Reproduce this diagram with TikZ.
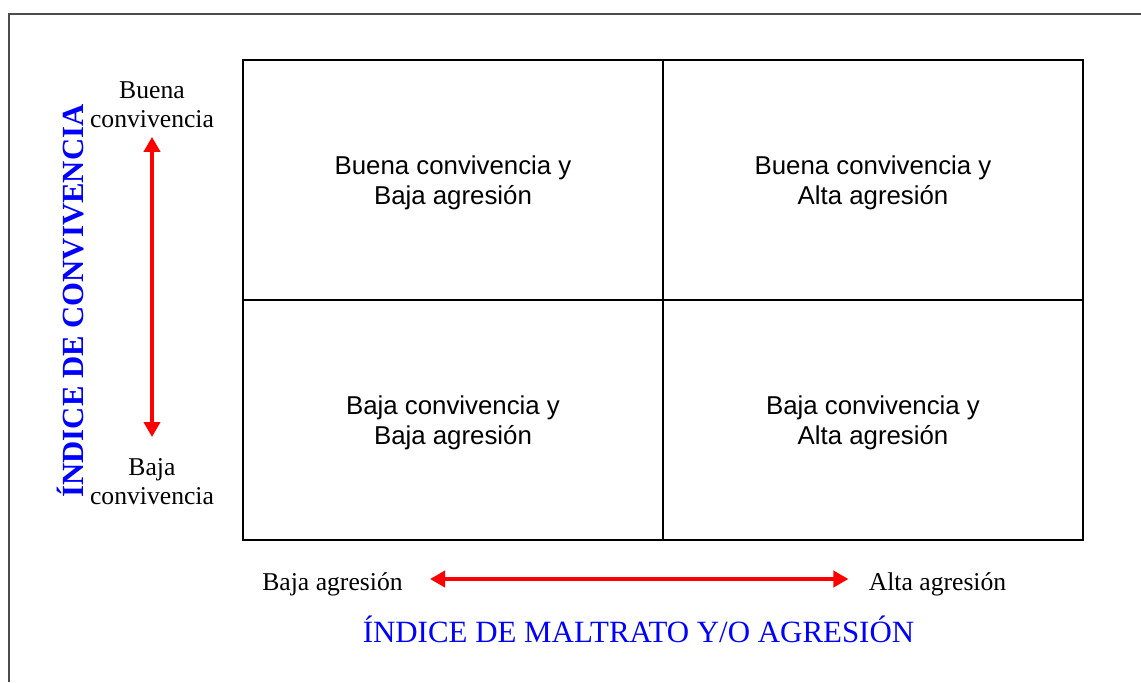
\documentclass[tikz,border=0pt]{standalone}
\usepackage{fontspec}
\setmainfont{Liberation Serif}
\newfontfamily\cellfont{Liberation Sans}
\usetikzlibrary{arrows.meta, positioning}
\definecolor{axisBlue}{RGB}{0, 0, 255}
\definecolor{axisRed}{RGB}{255, 0, 0}

\begin{document}
\begin{tikzpicture}[x=0.02cm, y=-0.02cm,
  cell/.style={draw, line width=0.04cm, minimum width=8.4cm, minimum height=4.8cm,
    inner sep=0pt, outer sep=0pt, align=center, text depth=0pt,
    font=\cellfont\fontsize{14.7}{17}\selectfont},
  endlabel/.style={align=center, inner sep=0pt, font=\fontsize{14.6}{16.5}\selectfont},
  redarrow/.style={axisRed, line width=0.08cm,
    {Triangle[length=0.3cm, width=0.32cm]}-{Triangle[length=0.3cm, width=0.32cm]}}]
  \useasboundingbox (0,0) rectangle (1141,682);
  % page frame, cut at right and bottom
  \draw[black!70, line width=0.03cm] (9,682) -- (9,14) -- (1141,14);
  % quadrants
  \node[cell] (goodlow) at (453,179.75) {Buena convivencia y\\Baja agresión};
  \node[cell] (goodhigh) at (873,179.75) {Buena convivencia y\\Alta agresión};
  \node[cell] (badlow) at (453,419.75) {Baja convivencia y\\Baja agresión};
  \node[cell] (badhigh) at (873,419.75) {Baja convivencia y\\Alta agresión};
  % vertical axis
  \node[endlabel] (goodconv) at (152,105) {Buena\\convivencia};
  \node[endlabel] (badconv) at (152,481.5) {Baja\\convivencia};
  \draw[redarrow, shorten <=0.17cm, shorten >=0.42cm] (goodconv) -- (badconv);
  \node[rotate=90, text=axisBlue, font=\bfseries\fontsize{17.5}{20}\selectfont] (convidx)
    at (71,301) {ÍNDICE DE CONVIVENCIA};
  % horizontal axis
  \node[endlabel, text height=14pt, text depth=1.5pt, anchor=base] (lowagr) at (332.5,590) {Baja agresión};
  \node[endlabel, text height=14pt, text depth=1.5pt, anchor=base] (highagr) at (937.5,590) {Alta agresión};
  \draw[redarrow, shorten <=0.54cm, shorten >=0.4cm] (lowagr) -- (highagr);
  \node[text=axisBlue, font=\fontsize{17.6}{20}\selectfont, anchor=base] (maltidx)
    at (638.5,642) {ÍNDICE DE MALTRATO Y/O AGRESIÓN};
\end{tikzpicture}
\end{document}
